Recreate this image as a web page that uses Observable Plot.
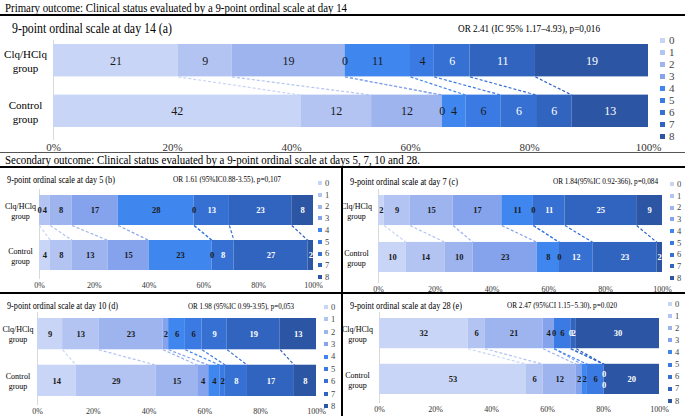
<!DOCTYPE html>
<html><head><meta charset="utf-8">
<script src="https://cdn.jsdelivr.net/npm/d3@7"></script>
<script src="https://cdn.jsdelivr.net/npm/@observablehq/plot@0.6"></script>
<style>
body{margin:0;background:#fff;font-family:"Liberation Serif","DejaVu Serif",serif;}
#root{position:relative;width:685px;height:416px;overflow:hidden;background:#fff;}
.abs{position:absolute;white-space:nowrap;}
.rule{position:absolute;background:#000;}
#root svg, #root svg text{font-family:"Liberation Serif",serif !important;}
</style></head>
<body><div id="root"></div>
<script>
// ---- data ----
const categories = ["0","1","2","3","4","5","6","7","8"];
const groups = ["Clq/HClq group","Control group"];
const tickValues = [0,0.2,0.4,0.6,0.8,1];
const palette = ["#c9d5f6","#b3c4f3","#9db4ef","#84a3ec","#3f86ee","#3a7ae2","#3570d2","#3164bf","#2c56a3"];

const day14Clq     = [21,9,19,0,11,4,6,11,19];
const day14Control = [42,12,12,0,4,6,6,6,13];
const day5Clq      = [0,4,8,17,28,0,13,23,8];
const day5Control  = [4,8,13,15,23,0,8,27,2];
const day7Clq      = [2,9,15,17,11,0,11,25,9];
const day7Control  = [10,14,10,23,8,0,12,23,2];
const day10Clq     = [9,13,23,2,6,6,9,19,13];
const day10Control = [14,29,15,4,4,2,8,17,8];
const day28Clq     = [32,6,21,4,0,6,0,2,30];
const day28Control = [53,6,12,2,2,6,0,0,20];

const mainTitle = "Primary outcome: Clinical status evaluated by a 9-point ordinal scale at day 14";
const secondTitle = "Secondary outcome: Clinical status evaluated by a 9-point ordinal scale at days 5, 7, 10 and 28.";
const panelTitles = ["9-point ordinal scale at day 14 (a)","9-point ordinal scale at day 5 (b)","9-point ordinal scale at day 7 (c)","9-point ordinal scale at day 10 (d)","9-point ordinal scale at day 28 (e)"];
const orTexts = ["OR 2.41 (IC 95% 1.17\u20134.93), p=0,016","OR 1.61 (95%IC0.88-3.55), p=0,107","OR 1.84(95%IC 0.92-366), p=0,084","OR 1.98 (95%IC 0.99-3.95), p=0,053","OR 2.47 (95%CI 1.15\u22125.30), p=0.020"];

const SERIF = "Liberation Serif, serif";
const root = document.getElementById("root");

function addText(txt, x, yc, size, width, opts = {}) {
  const d = document.createElement("div");
  d.className = "abs";
  d.textContent = txt;
  d.style.left = x + "px";
  d.style.fontSize = size + "px";
  d.style.lineHeight = size + "px";
  d.style.top = (yc - size / 2) + "px";
  d.style.color = opts.color || "#000";
  if (opts.bold) d.style.fontWeight = "bold";
  root.appendChild(d);
  if (width) {
    const w = d.getBoundingClientRect().width;
    d.style.transformOrigin = "0 50%";
    d.style.transform = `scaleX(${width / w})`;
  }
  return d;
}
function addRule(x, y, w, h, color) {
  const d = document.createElement("div");
  d.className = "rule";
  Object.assign(d.style, {left: x + "px", top: y + "px", width: w + "px", height: h + "px", background: color || "#000"});
  root.appendChild(d);
}
function addLegend(sqX, labX, y0, step, size, font) {
  categories.forEach((c, i) => {
    const yc = y0 + i * step;
    const s = document.createElement("div");
    s.className = "abs";
    Object.assign(s.style, {left: sqX + "px", top: (yc - size / 2) + "px", width: size + "px", height: size + "px", background: palette[i]});
    root.appendChild(s);
    addText(c, labX, yc, font, null, {color: "#444"});
  });
}

function buildRows(clq, control) {
  const rows = [], links = [];
  [clq, control].forEach((vals, gi) => {
    const total = d3.sum(vals);
    let cum = 0;
    vals.forEach((v, ci) => {
      rows.push({group: groups[gi], gi, cat: categories[ci], ci, value: v, start: cum / total, end: (cum + v) / total, shift: 0});
      cum += v;
    });
  });
  for (let i = 1; i < rows.length; i++) {
    const a = rows[i - 1], b = rows[i];
    if (a.gi === b.gi && a.value === 0 && b.value === 0) { a.shift = -1; b.shift = 1; }
  }
  for (let ci = 0; ci < categories.length - 1; ci++) {
    links.push({cat: categories[ci], a: rows[ci].end, b: rows[categories.length + ci].end});
  }
  return {rows, links};
}

function drawPanel(p) {
  const {rows, links} = buildRows(p.clq, p.control);
  const h = p.ratio / 2;
  const labelOpts = (extra) => ({
    x: d => (d.start + d.end) / 2, y: "gi", text: d => String(d.value),
    fontFamily: SERIF, fontSize: p.valueFont, fontWeight: p.bold ? "bold" : "normal", textAnchor: "middle", ...extra
  });
  const marks = [
    Plot.ruleX([0], {stroke: "#d9d9d9"}),
    Plot.rect(rows, {x1: "start", x2: "end", y1: d => d.gi - h, y2: d => d.gi + h, fill: "cat"}),
    Plot.link(links, {x1: "a", x2: "b", y1: () => h, y2: () => 1 - h, stroke: "cat", strokeDasharray: "3,2", strokeWidth: 1.2})
  ];
  [-1, 0, 1].forEach(s => {
    const dy = s * p.zeroShift;
    marks.push(Plot.text(rows.filter(d => d.shift === s && d.ci < 6), labelOpts({fill: "#1a1a1a", dy})));
    marks.push(Plot.text(rows.filter(d => d.shift === s && d.ci >= 6), labelOpts({fill: "#ffffff", dy})));
  });
  marks.push(Plot.text(groups, {frameAnchor: "left", y: (d, i) => i, text: d => d.replace(" ", "\n"), dx: p.labelDx, textAnchor: "middle", fontFamily: SERIF, fontSize: p.labelFont, lineHeight: 1.25, fill: "#000"}));
  marks.push(Plot.axisX({ticks: tickValues, tickFormat: d3.format(".0%"), tickSize: 0, tickPadding: 3, label: null, fill: "#333", fontFamily: SERIF, fontSize: p.tickFont}));
  const chart = Plot.plot({
    width: p.W, height: p.H,
    marginLeft: p.x0 - p.L, marginRight: p.L + p.W - p.x1,
    marginTop: p.frameTop - p.T, marginBottom: p.T + p.H - p.frameBottom,
    x: {domain: [0, 1], label: null},
    y: {domain: [-h, 1 + h], range: [p.barTop - p.T, p.barBot - p.T], axis: null},
    color: {domain: categories, range: palette},
    style: {fontFamily: SERIF, fontSize: p.tickFont + "px", background: "none", overflow: "visible"},
    marks
  });
  chart.setAttribute("font-family", SERIF);
  chart.style.position = "absolute";
  chart.style.left = p.L + "px";
  chart.style.top = p.T + "px";
  root.appendChild(chart);
}

const common = {valueFont: 8.5, bold: true, tickFont: 8, labelFont: 8, zeroShift: 5.5};
const panels = [
  {clq: day14Clq, control: day14Control, L: 0, T: 0, W: 662, H: 156, x0: 53, x1: 648, frameTop: 40, frameBottom: 140, barTop: 44, barBot: 127, ratio: 0.64, labelDx: -28, labelFont: 11, valueFont: 12, bold: false, tickFont: 11, zeroShift: 7,
   title: [12, 29, 14, 160], or: [458, 28, 11, 142], legend: [660, 669, 40, 12, 5, 11]},
  {...common, clq: day5Clq, control: day5Control, L: 0, T: 170, W: 330, H: 121, x0: 39, x1: 313, frameTop: 189, frameBottom: 279, barTop: 195, barBot: 270, ratio: 0.667, labelDx: -19,
   title: [7, 180, 10, 108], or: [173, 180, 8, 108], legend: [318, 325, 183, 11.75, 4, 8.5]},
  {...common, clq: day7Clq, control: day7Control, L: 344, T: 170, W: 341, H: 121, x0: 378, x1: 662, frameTop: 189, frameBottom: 283, barTop: 195, barBot: 272, ratio: 0.64, labelDx: -22,
   title: [350, 182, 10, 108], or: [553, 182, 8, 105], legend: [670, 677, 184, 11.75, 4, 8.5]},
  {...common, clq: day10Clq, control: day10Control, L: 0, T: 294, W: 330, H: 122, x0: 37, x1: 316, frameTop: 312, frameBottom: 405, barTop: 318, barBot: 396, ratio: 0.67, labelDx: -19.5,
   title: [7, 306, 10.5, 111], or: [188, 307, 8, 106], legend: [324, 331, 307, 12.4, 4, 8.5]},
  {...common, clq: day28Clq, control: day28Control, L: 344, T: 294, W: 341, H: 122, x0: 379, x1: 659, frameTop: 312, frameBottom: 403, barTop: 318, barBot: 394, ratio: 0.66, labelDx: -22,
   title: [350, 306, 10.5, 112], or: [507, 306, 8, 110], legend: [668, 675, 304, 12.1, 4, 8.5]}
];

panels.forEach((p, i) => {
  drawPanel(p);
  addText(panelTitles[i], p.title[0], p.title[1], p.title[2], p.title[3]);
  addText(orTexts[i], p.or[0], p.or[1], p.or[2], p.or[3]);
  addLegend(...p.legend);
});

addText(mainTitle, 5, 8, 12.5, 342);
addText(secondTitle, 5, 160, 12.5, 415);
addRule(0, 14, 685, 2);
addRule(0, 152, 685, 1, "#555");
addRule(0, 166, 685, 2);
addRule(341, 166, 2, 250);
addRule(0, 292, 685, 2);
</script>
</body></html>
